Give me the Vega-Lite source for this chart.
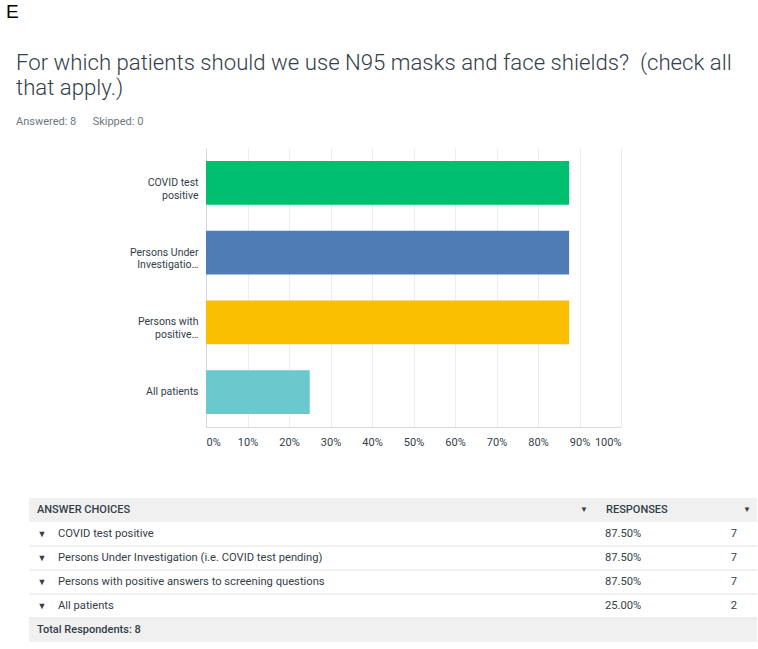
{
  "$schema": "https://vega.github.io/schema/vega-lite/v6.json",
  "padding": {"left": 6, "top": 2, "right": 1, "bottom": 4},
  "background": "white",
  "title": {"text": "E", "anchor": "start", "frame": "bounds", "dx": -10, "font": "Liberation Sans", "fontSize": 19, "fontWeight": "normal", "color": "#000000", "offset": 30},
  "config": {"view": {"stroke": null}, "font": "Roboto"},
  "datasets": {
    "responses": [
      {"choice": "COVID test positive", "short": "COVID test|positive", "pct": 0.875, "count": 7},
      {"choice": "Persons Under Investigation (i.e. COVID test pending)", "short": "Persons Under|Investigatio…", "pct": 0.875, "count": 7},
      {"choice": "Persons with positive answers to screening questions", "short": "Persons with|positive…", "pct": 0.875, "count": 7},
      {"choice": "All patients", "short": "All patients", "pct": 0.25, "count": 2}
    ],
    "frame": [
      {"row": "header", "left": "ANSWER CHOICES", "right": "RESPONSES"},
      {"row": "footer", "left": "Total Respondents: 8", "right": ""}
    ]
  },
  "vconcat": [
    {
      "width": 592,
      "height": 279,
      "title": {
        "text": ["For which patients should we use N95 masks and face shields?\u00a0 (check all", "that apply.)"],
        "subtitle": "Answered: 8\u00a0\u00a0\u00a0\u00a0\u00a0 Skipped: 0",
        "anchor": "start", "frame": "group", "dx": -13,
        "font": "Roboto", "fontWeight": 300, "fontSize": 22.2, "lineHeight": 25, "color": "#333e48",
        "subtitleFont": "Roboto", "subtitleFontSize": 11, "subtitleColor": "#6b787f", "subtitlePadding": 17,
        "offset": 21
      },
      "data": {"name": "responses"},
      "mark": {"type": "bar"},
      "encoding": {
        "y": {
          "field": "short", "type": "nominal", "sort": null,
          "scale": {"paddingInner": 0.375, "paddingOuter": 0.1875},
          "axis": {"title": null, "labelExpr": "split(datum.label, '|')", "ticks": false, "domain": true, "domainColor": "#d9d9d9", "offset": -177, "labelPadding": 8, "labelFontSize": 10.5, "labelColor": "#333e48", "labelLineHeight": 12.7, "labelFont": "Roboto"}
        },
        "x": {
          "field": "pct", "type": "quantitative",
          "scale": {"domain": [0, 1], "range": [177, 592]},
          "axis": {"title": null, "values": [0, 0.1, 0.2, 0.3, 0.4, 0.5, 0.6, 0.7, 0.8, 0.9, 1], "format": ".0%", "grid": true, "gridColor": "#ececec", "ticks": false, "domainColor": "#d9d9d9", "labelColor": "#333e48", "labelFontSize": 11, "labelPadding": 9, "labelFont": "Roboto", "labelFlush": true}
        },
        "color": {
          "field": "choice", "type": "nominal", "legend": null,
          "scale": {"domain": ["COVID test positive", "Persons Under Investigation (i.e. COVID test pending)", "Persons with positive answers to screening questions", "All patients"], "range": ["#00bf6f", "#507cb6", "#f9be00", "#6bc8cd"]}
        }
      }
    },
    {
      "spacing": 0,
      "bounds": "flush",
      "hconcat": [
        {
          "width": 568,
          "height": 144,
          "layer": [
            {
              "data": {"name": "frame"},
              "transform": [{"filter": "datum.row == 'footer'"}],
              "mark": {"type": "bar", "color": "#f0f0f0"},
              "encoding": {"y": {"field": "row", "type": "nominal", "axis": null, "scale": {"domain": ["header", "COVID test positive", "Persons Under Investigation (i.e. COVID test pending)", "Persons with positive answers to screening questions", "All patients", "footer"], "paddingInner": 0, "paddingOuter": 0}}}
            },
            {
              "data": {"name": "frame"},
              "transform": [{"filter": "datum.row == 'header'"}],
              "mark": {"type": "bar", "color": "#f0f0f0", "x2Offset": -2},
              "encoding": {"y": {"field": "row", "type": "nominal", "axis": null}}
            },
            {
              "data": {"name": "responses"},
              "mark": {"type": "rule", "color": "#e2e2e2"},
              "encoding": {"y": {"field": "choice", "type": "nominal", "axis": null, "bandPosition": 1}}
            },
            {
              "data": {"name": "responses"},
              "mark": {"type": "text", "text": "▼", "fontSize": 9, "color": "#333e48", "align": "center", "dx": 13},
              "encoding": {
                "y": {"field": "choice", "type": "nominal", "axis": null},
                "x": {"datum": "answer", "type": "nominal", "axis": null, "bandPosition": 0, "scale": {"type": "band", "paddingInner": 0, "paddingOuter": 0}}
              }
            },
            {
              "data": {"name": "responses"},
              "mark": {"type": "text", "fontSize": 11.2, "color": "#333e48", "align": "left", "dx": 29},
              "encoding": {
                "y": {"field": "choice", "type": "nominal", "axis": null},
                "x": {"datum": "answer", "type": "nominal", "axis": null, "bandPosition": 0},
                "text": {"field": "choice"}
              }
            },
            {
              "data": {"name": "frame"},
              "mark": {"type": "text", "fontSize": 11, "fontWeight": 500, "color": "#333e48", "align": "left", "dx": 8},
              "encoding": {
                "y": {"field": "row", "type": "nominal", "axis": null},
                "x": {"datum": "answer", "type": "nominal", "axis": null, "bandPosition": 0},
                "text": {"field": "left"}
              }
            },
            {
              "data": {"name": "frame"},
              "transform": [{"filter": "datum.row == 'header'"}],
              "mark": {"type": "text", "text": "▼", "fontSize": 8, "color": "#333e48", "align": "center", "dx": -13},
              "encoding": {
                "y": {"field": "row", "type": "nominal", "axis": null},
                "x": {"datum": "answer", "type": "nominal", "axis": null, "bandPosition": 1}
              }
            }
          ]
        },
        {
          "width": 160,
          "height": 144,
          "layer": [
            {
              "data": {"name": "frame"},
              "mark": {"type": "bar", "color": "#f0f0f0"},
              "encoding": {"y": {"field": "row", "type": "nominal", "axis": null, "scale": {"domain": ["header", "COVID test positive", "Persons Under Investigation (i.e. COVID test pending)", "Persons with positive answers to screening questions", "All patients", "footer"], "paddingInner": 0, "paddingOuter": 0}}}
            },
            {
              "data": {"name": "responses"},
              "mark": {"type": "rule", "color": "#e2e2e2"},
              "encoding": {"y": {"field": "choice", "type": "nominal", "axis": null, "bandPosition": 1}}
            },
            {
              "data": {"name": "responses"},
              "mark": {"type": "text", "fontSize": 11.2, "color": "#333e48", "align": "left", "dx": 8},
              "encoding": {
                "y": {"field": "choice", "type": "nominal", "axis": null},
                "x": {"datum": "responses", "type": "nominal", "axis": null, "bandPosition": 0, "scale": {"type": "band", "paddingInner": 0, "paddingOuter": 0}},
                "text": {"field": "pct", "format": ".2%"}
              }
            },
            {
              "data": {"name": "responses"},
              "mark": {"type": "text", "fontSize": 11.2, "color": "#333e48", "align": "right", "dx": -20},
              "encoding": {
                "y": {"field": "choice", "type": "nominal", "axis": null},
                "x": {"datum": "responses", "type": "nominal", "axis": null, "bandPosition": 1},
                "text": {"field": "count"}
              }
            },
            {
              "data": {"name": "frame"},
              "transform": [{"filter": "datum.row == 'header'"}],
              "mark": {"type": "text", "fontSize": 11, "fontWeight": 500, "color": "#333e48", "align": "left", "dx": 9},
              "encoding": {
                "y": {"field": "row", "type": "nominal", "axis": null},
                "x": {"datum": "responses", "type": "nominal", "axis": null, "bandPosition": 0},
                "text": {"field": "right"}
              }
            },
            {
              "data": {"name": "frame"},
              "transform": [{"filter": "datum.row == 'header'"}],
              "mark": {"type": "text", "text": "▼", "fontSize": 8, "color": "#333e48", "align": "center", "dx": -10},
              "encoding": {
                "y": {"field": "row", "type": "nominal", "axis": null},
                "x": {"datum": "responses", "type": "nominal", "axis": null, "bandPosition": 1}
              }
            }
          ]
        }
      ]
    }
  ],
  "spacing": 51,
  "resolve": {"scale": {"y": "independent", "x": "independent"}}
}
